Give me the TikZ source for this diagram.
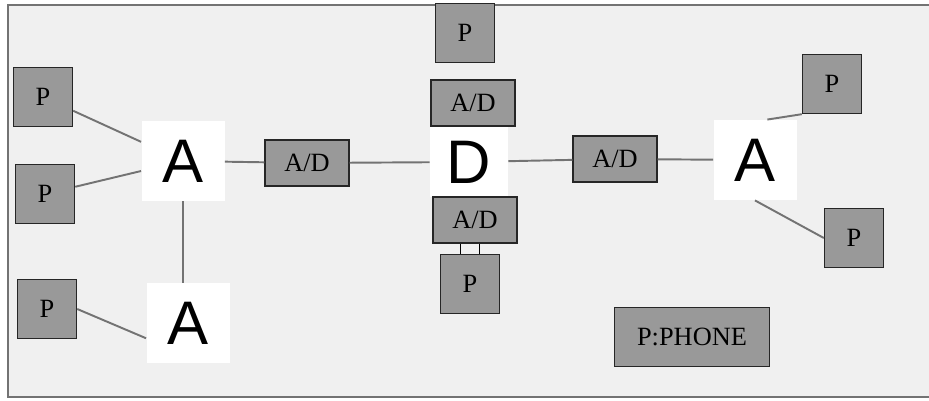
\documentclass[tikz,border=0pt]{standalone}
\usepackage{fontspec}
\setmainfont{Liberation Serif}
\newfontfamily\lettersans{Liberation Sans}
\begin{document}
\begin{tikzpicture}[x=0.2mm, y=-0.2mm, line width=0.5pt, every node/.style={inner sep=0pt},
  pbox/.style={draw=black!85, fill=black!40, line width=0.8pt, minimum width=11.8mm, minimum height=11.8mm, font=\fontsize{15}{15}\selectfont},
  adbox/.style={pbox, minimum width=16.8mm, minimum height=9.2mm},
  letter/.style={fill=white, minimum width=16.6mm, minimum height=16mm, font=\lettersans\fontsize{35}{35}\selectfont},
  link/.style={draw=black!55, line width=1.1pt}]
  \useasboundingbox (0,0) rectangle (929,401);
  \fill[black!6] (8,5) rectangle (929,397);
  \draw[black!55, line width=1.2pt] (929,5) -- (8,5) -- (8,397) -- (929,397);
  % left side
  \node[pbox] (pla) at (43,97) {P};
  \node[pbox] (plb) at (45,194) {P};
  \node[pbox] (plc) at (47,309) {P};
  \node[letter] (aup) at (183,161) {A};
  \node[letter] (alow) at (188,323) {A};
  % centre
  \node[adbox] (adl) at (307,163) {A/D};
  \node[pbox] (ptop) at (465,33) {P};
  \node[adbox] (adtop) at (473,103) {A/D};
  \node[letter, minimum width=15.6mm, minimum height=14mm] (dig) at (469,162) {D};
  \node[adbox] (adbot) at (475,220) {A/D};
  \node[pbox] (pbot) at (470,284) {P};
  % right side
  \node[adbox] (adr) at (615,159) {A/D};
  \node[letter] (aright) at (755,160) {A};
  \node[pbox] (pra) at (832,84) {P};
  \node[pbox] (prb) at (854,238) {P};
  \node[pbox, minimum width=31mm] (phone) at (692,337) {P:PHONE};
  % links
  \draw[link] (pla) -- (aup);
  \draw[link] (plb) -- (aup);
  \draw[link] (plc.east) -- (alow.200);
  \draw[link] (aup.south) -- (aup.south |- alow.north);
  \draw[link] (aup) -- (adl);
  \draw[link] (adl) -- (dig);
  \draw[link] (dig) -- (adr);
  \draw[link] (adr) -- (aright);
  \draw[link] (aright.73) -- (pra.south west);
  \draw[link] (aright.south) -- (prb.west);
  \draw[double=black!6, double distance=3.6mm, line width=0.6pt] (pbot.north |- adbot.south) -- (pbot.north);
\end{tikzpicture}
\end{document}
